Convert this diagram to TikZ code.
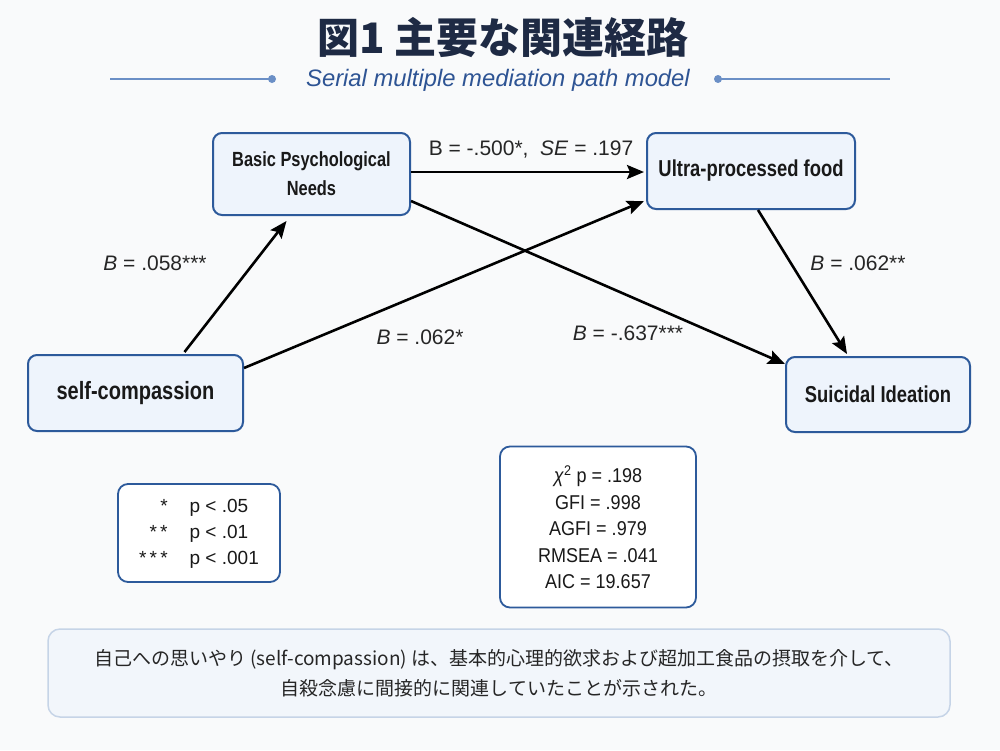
\documentclass[tikz,border=0pt]{standalone}
\usepackage{fontspec}
\setmainfont{Liberation Sans}
\newfontfamily\jpfont{Noto Sans CJK JP}
\newfontfamily\varfont[FakeStretch=0.8]{Liberation Sans}
\newfontfamily\narrowfont[FakeStretch=0.9]{Liberation Sans}
\usetikzlibrary{arrows.meta,positioning}
\definecolor{navy}{HTML}{1E2A44}
\definecolor{subblue}{HTML}{2E5494}
\definecolor{lineblue}{HTML}{6B8FC6}
\definecolor{boxedge}{HTML}{2D5A9B}
\definecolor{boxfill}{HTML}{EEF4FC}
\definecolor{notefill}{HTML}{F2F6FB}
\definecolor{noteedge}{HTML}{C6D4E7}
\definecolor{bg}{HTML}{F9FAFB}
\begin{document}
\begin{tikzpicture}[x=1pt,y=-1pt,>={Stealth[length=17pt,width=14pt,inset=3pt]},
	var/.style={draw=boxedge,line width=2pt,fill=boxfill,rounded corners=9pt,align=center,inner sep=0pt,text=black!90},
	path/.style={->,line width=2.6pt,black},
	coef/.style={font=\fontsize{21}{25}\selectfont,text=black!85},
	info/.style={draw=boxedge,line width=1.8pt,fill=white,rounded corners=10pt,inner sep=0pt,align=center,text=black!90}]
	\fill[bg] (0,0) rectangle (1000,750);
	\node[font=\jpfont\bfseries\fontsize{42}{48}\selectfont,text=navy] (title) at (503,38) {図1 主要な関連経路};
	\node[font=\itshape\fontsize{23.8}{28}\selectfont,text=subblue] (sub) at (498,80) {Serial multiple mediation path model};
	\draw[lineblue,line width=1.5pt] (110,79) -- (272,79) (718,79) -- (890,79);
	\fill[lineblue] (272,79) circle (4pt) (718,79) circle (4pt);
	% variables
	\node[var,minimum width=197pt,minimum height=82pt,font=\varfont\bfseries\fontsize{20.5}{29}\selectfont] (bpn) at (311.5,174) {Basic Psychological\\Needs};
	\node[var,minimum width=208pt,minimum height=76pt,font=\varfont\bfseries\fontsize{23}{27}\selectfont] (upf) at (751,171) {Ultra-processed food};
	\node[var,minimum width=215pt,minimum height=76pt,font=\varfont\bfseries\fontsize{25}{30}\selectfont] (sc) at (135.5,393) {self-compassion};
	\node[var,minimum width=184pt,minimum height=75pt,font=\varfont\bfseries\fontsize{23}{27}\selectfont] (si) at (878,394.5) {Suicidal Ideation};
	% paths
	\draw[path] ([xshift=49pt,yshift=2pt]sc.north) -- ([xshift=-25pt,yshift=-5pt]bpn.south);
	\draw[path] ([yshift=25pt]sc.east) -- ([xshift=-2pt,yshift=9pt]upf.south west);
	\draw[path] ([yshift=2pt]bpn.east) -- ([yshift=2pt,xshift=-2pt]bpn.east -| upf.west);
	\draw[path] ([yshift=-27pt]bpn.east) -- ([yshift=-8pt]si.north west);
	\draw[path] ([xshift=7pt]upf.south) -- ([xshift=-31pt,yshift=2pt]si.north);
	\node[coef] (c1) at (155,263) {\textit{B} = .058***};
	\node[coef] (c2) at (420,337) {\textit{B} = .062*};
	\node[coef] (c3) at (531,150) {B = -.500*,\ \ \textit{SE} = .197};
	\node[coef] (c4) at (628,333) {\textit{B} = -.637***};
	\node[coef] (c5) at (858,263) {\textit{B} = .062**};
	% legend and fit
	\node[info,minimum width=162pt,minimum height=98pt,font=\fontsize{19}{26}\selectfont] (sig) at (199,533)
		{\begin{tabular}{@{}r@{\hspace{22pt}}l@{}}{*}&p < .05\\{*\,*}&p < .01\\{*\,*\,*}&p < .001\end{tabular}};
	\node[info,minimum width=196pt,minimum height=161pt,font=\narrowfont\fontsize{20}{26.5}\selectfont] (gof) at (598,527)
		{\textit{χ}\textsuperscript{2} p = .198\\GFI = .998\\AGFI = .979\\RMSEA = .041\\AIC = 19.657};
	\node[draw=noteedge,line width=1.5pt,fill=notefill,rounded corners=12pt,minimum width=902pt,minimum height=88pt,
		align=center,text=black!85,font=\jpfont\fontsize{19}{30}\selectfont] (note) at (499,673)
		{自己への思いやり (self-compassion) は、基本的心理的欲求および超加工食品の摂取を介して、\\自殺念慮に間接的に関連していたことが示された。};
\end{tikzpicture}
\end{document}
